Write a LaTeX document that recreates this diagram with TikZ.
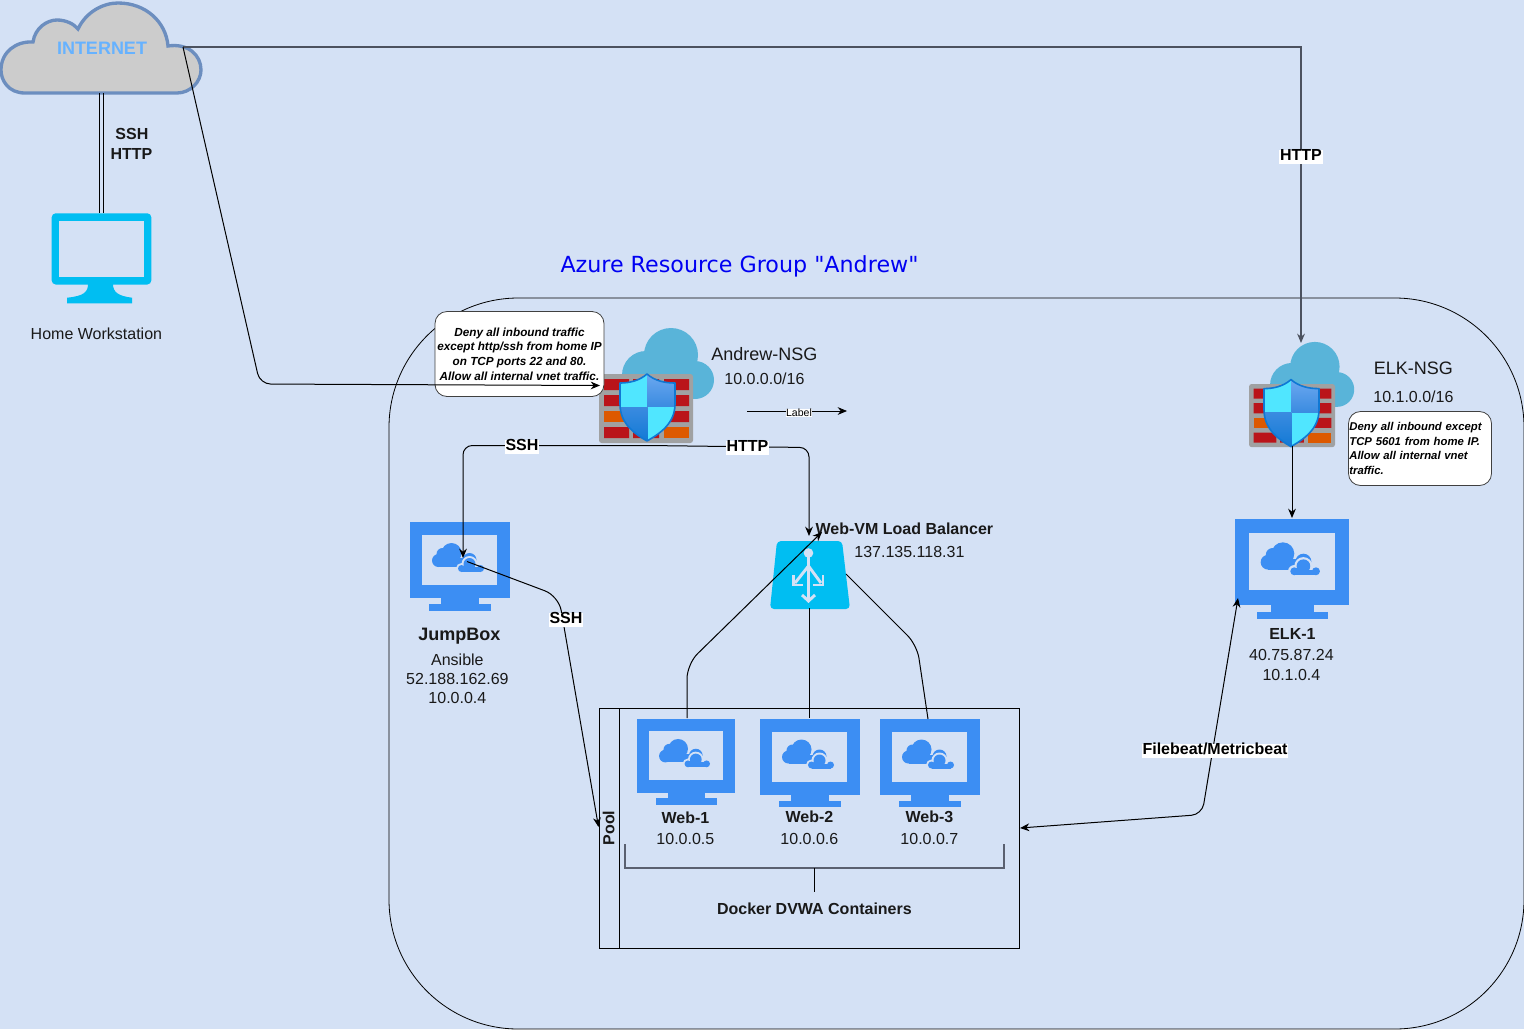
\documentclass[tikz,border=0pt]{standalone}
\usepackage{fontspec}
\setmainfont{Liberation Sans}
\newfontfamily\azfont{DejaVu Sans}
\usetikzlibrary{arrows.meta,calc}
\definecolor{bgc}{HTML}{D4E1F5}
\definecolor{vmblue}{HTML}{3C8EF3}
\definecolor{cyanmon}{HTML}{00BEF2}
\definecolor{cloudline}{HTML}{6C8EBF}
\definecolor{inet}{HTML}{66B2FF}
\definecolor{wallgray}{HTML}{A0A1A2}
\definecolor{brickred}{HTML}{BA141A}
\definecolor{brickor}{HTML}{DD5900}
\definecolor{nsgcloud}{HTML}{59B4D9}
\definecolor{shieldedge}{HTML}{0F78D4}
\definecolor{shieldc}{HTML}{50E6FF}
\definecolor{shieldb}{HTML}{5EA0EF}
\definecolor{shieldd}{HTML}{3A8BE0}
\definecolor{lineg}{HTML}{5A6070}
\tikzset{
  x=0.75pt,y=-0.75pt,
  tx/.style={inner sep=0pt,outer sep=0pt,text height=0.72em,text depth=0.2em,text=black!90,yshift=-2.2pt,xshift=0.3pt},
  small16/.style={tx,font=\fontsize{12}{14}\selectfont},
  bold16/.style={tx,font=\fontsize{12}{14}\selectfont\bfseries},
  head18/.style={tx,font=\fontsize{13.5}{16}\selectfont},
  wlabel/.style={fill=white,inner sep=0.6pt,text height=0.72em,text depth=0.2em,text=black,yshift=-2.2pt,font=\fontsize{12}{14}\selectfont\bfseries},
  conn/.style={draw=black,line width=0.75pt,rounded corners=7pt},
  arr/.style={conn,-{Stealth[length=7pt,width=5.8pt]}},
  callout/.style={draw=black!75,fill=white,rounded corners=9pt,line width=0.6pt,inner sep=0pt,
    font=\fontsize{8.8}{10.9}\selectfont\bfseries\itshape},
  anchorbox/.style={inner sep=0pt,outer sep=0pt},
}
% VM monitor in a 100 x 89 cell
\newcommand{\vmicon}[4]{% x y xscale yscale
\begin{scope}[shift={(#1,#2)},xscale=#3,yscale=#4]
  \fill[vmblue] (0,0) rectangle (100,76);
  \fill[bgc] (12.4,13) rectangle (87.4,63);
  \fill[vmblue] (31.4,76) rectangle (69,82);
  \fill[vmblue] (19,82) rectangle (81.4,88.5);
  % big cloud
  \fill[vmblue] (29,38.5) circle[radius=6.5] (33,32) circle[radius=6] (42,31) circle[radius=10] (60,38) circle[radius=7];
  \fill[vmblue] (29,36) rectangle (60,45);
  % gap and small cloud
  \fill[bgc] (52,46.5) circle[radius=5.5] (60,42) circle[radius=8] (71,46.5) circle[radius=5.5];
  \fill[bgc] (48,46) rectangle (78,52);
  \fill[vmblue] (52,46.5) circle[radius=3.5] (60,42) circle[radius=6] (71,46.5) circle[radius=3.5];
  \fill[vmblue] (52,45) rectangle (71,50);
\end{scope}}
% NSG firewall in local frame, wall 94 x 69
\newcommand{\nsgicon}[3]{% x y scale
\begin{scope}[shift={(#1,#2)},scale=#3]
  \fill[nsgcloud] (72,-19) circle[radius=27] (47,1) circle[radius=24] (96,6) circle[radius=19];
  \fill[nsgcloud] (47,-5) rectangle (96,25);
  \fill[wallgray,rounded corners=2pt] (0,0) rectangle (94,69);
  \fill[brickred] (5,5) rectangle (30,16) (34,5) rectangle (60,16) (65,5) rectangle (90,16);
  \fill[brickred] (5,21) rectangle (30,32) (34,21) rectangle (60,32) (65,21) rectangle (90,32);
  \fill[brickor] (5,37) rectangle (30,48);
  \fill[brickred] (34,37) rectangle (60,48) (65,37) rectangle (90,48);
  \fill[brickred] (5,53) rectangle (30,64) (34,53) rectangle (60,64);
  \fill[brickor] (65,53) rectangle (90,64);
\end{scope}}
\newcommand{\shieldicon}[2]{% x y
\begin{scope}[shift={(#1,#2)}]
  \begin{scope}
    \clip (48,0) .. controls (40,7) and (30,9) .. (21,9) -- (21,30) .. controls (21,50) and (36,60) .. (48,67) .. controls (60,60) and (76,50) .. (76,30) -- (76,9) .. controls (66,9) and (56,7) .. (48,0) -- cycle;
    \fill[shieldc] (15,-2) rectangle (48.5,33);
    \shade[top color=shieldb!90!white,bottom color=shieldd] (48.5,-2) rectangle (80,33);
    \shade[top color=shieldd,bottom color=shieldedge] (15,33) rectangle (48.5,70);
    \fill[shieldc] (48.5,33) rectangle (80,70);
  \end{scope}
  \draw[shieldedge,line width=1.2pt,line join=round] (48,0) .. controls (40,7) and (30,9) .. (21,9) -- (21,30) .. controls (21,50) and (36,60) .. (48,67) .. controls (60,60) and (76,50) .. (76,30) -- (76,9) .. controls (66,9) and (56,7) .. (48,0) -- cycle;
\end{scope}}
\begin{document}
\begin{tikzpicture}
\useasboundingbox (0,0) rectangle (1524,1029);
\fill[bgc] (0,0) rectangle (1524,1029);

% resource group
\draw[black,line width=0.6pt,rounded corners=97pt] (389,298) rectangle (1524,1029);
\node[anchor=center,inner sep=0pt,text=blue!95!black,yshift=-1.6pt,font=\azfont\fontsize{16.65}{20}\selectfont] (rgtitle) at (739.5,264) {Azure Resource Group "Andrew"};

% pool
\draw[black,line width=0.75pt] (599.5,708.5) rectangle (1019.5,948);
\draw[black,line width=0.75pt] (619.5,708.5) -- (619.5,948);
\node[inner sep=0pt,text height=0.72em,text depth=0.2em,rotate=90,text=black!90,font=\fontsize{12}{14}\selectfont\bfseries] (pooltitle) at (611,828) {Pool};
\node[anchorbox,minimum width=315pt,minimum height=180pt] (pool) at (809.5,828.5) {};

% internet cloud
\draw[cloudline,fill=black!20,line width=2.5pt] (25,93) .. controls (8,93) and (1,80) .. (1,70) .. controls (1,52) and (16,41) .. (33,42) .. controls (35,28) and (47,20) .. (57,20) .. controls (66,20) and (74,24) .. (78,29) .. controls (86,12) and (103,3) .. (118,3) .. controls (146,3) and (166,22) .. (168,46) .. controls (188,43) and (201,55) .. (201,70) .. controls (201,82) and (190,93) .. (177,93) -- cycle;
\node[inner sep=0pt,text height=0.72em,text depth=0pt,text=inet,yshift=-1.5pt,font=\fontsize{13.5}{16}\selectfont\bfseries] (internet) at (102,48) {INTERNET};

% home workstation
\fill[cyanmon,rounded corners=3pt] (51.7,213.3) rectangle (151.3,284.5);
\fill[bgc] (59.3,220.7) rectangle (144,277.3);
\fill[cyanmon] (88,284) .. controls (88,292) and (84,296) .. (67,297.7) -- (67,303.3) -- (132,303.3) -- (132,297.7) .. controls (118,296) and (113,292) .. (113,284) -- cycle;
\node[anchorbox,minimum width=75pt,minimum height=67.5pt] (home) at (102,258) {};
\node[small16] (homelabel) at (96,333) {Home Workstation};

% icons
\nsgicon{599}{374}{1}
\shieldicon{599}{374}
\node[anchorbox,minimum width=70.5pt,minimum height=52pt] (nsga) at (646,408.5) {};
\nsgicon{1249}{384}{0.915}
\shieldicon{1243}{379.6}
\node[anchorbox,minimum width=64.5pt,minimum height=47pt] (nsge) at (1292,415.5) {};
\vmicon{409.5}{522}{1}{1}
\node[anchorbox,minimum width=75pt,minimum height=67pt] (jump) at (459.5,566.5) {};
\vmicon{1235}{518.5}{1.14}{1.135}
\node[anchorbox,minimum width=85.5pt,minimum height=75.5pt] (elk) at (1292,568.5) {};
\vmicon{637}{718.5}{0.98}{0.975}
\node[anchorbox,minimum width=73.5pt,minimum height=65pt] (web1) at (686,762) {};
\vmicon{759.5}{718.5}{1}{1}
\node[anchorbox,minimum width=75pt,minimum height=66.5pt] (web2) at (809.5,763) {};
\vmicon{879.5}{718.5}{1}{1}
\node[anchorbox,minimum width=75pt,minimum height=66.5pt] (web3) at (929.5,763) {};

% load balancer
\fill[cyanmon,rounded corners=3pt] (777,541) -- (842,541) -- (850,609) -- (770,609) -- cycle;
\node[anchorbox,minimum width=60pt,minimum height=51pt] (lb) at (809.5,575) {};
\begin{scope}[draw=bgc,line width=2.2pt,line cap=butt]
  \fill[bgc] (808.5,553) circle[radius=4.8];
  \draw (808.5,553) -- (808.5,600);
  \draw (808.5,566) -- (795,583);
  \draw (808.5,566) -- (821,583);
  \draw (802,595) -- (808.5,601) -- (815,595);
  \draw (793.5,575) -- (793.5,585) -- (803,585);
  \draw (823,575) -- (823,585) -- (813,585);
\end{scope}

% callouts
\node[callout,minimum width=126.75pt,minimum height=63.75pt,align=center] (calla) at (519.5,354) {Deny all inbound traffic\\except http/ssh from home IP\\on TCP ports 22 and 80.\\Allow all internal vnet traffic.};
\node[callout,font=\fontsize{8.5}{10.9}\selectfont\bfseries\itshape,minimum width=107.25pt,minimum height=55.5pt,text width=106pt,align=left] (calle) at (1420,448.5) {Deny all inbound except\\TCP 5601 from home IP.\\Allow all internal vnet\\traffic.};

% text
\node[head18] (t1) at (764,354) {Andrew-NSG};
\node[small16] (t2) at (764,378) {10.0.0.0/16};
\node[head18] (t3) at (1413,368) {ELK-NSG};
\node[small16] (t4) at (1413,396) {10.1.0.0/16};
\node[bold16] (t5) at (904,528) {Web-VM Load Balancer};
\node[small16] (t6) at (909,551) {137.135.118.31};
\node[tx,font=\fontsize{13.5}{16}\selectfont\bfseries] (t7) at (459,634) {JumpBox};
\node[small16] (t8) at (457,659) {Ansible};
\node[small16] (t9) at (457,678) {52.188.162.69};
\node[small16] (t10) at (457,697) {10.0.0.4};
\node[bold16] (t11) at (1292,633) {ELK-1};
\node[small16] (t12) at (1291,654) {40.75.87.24};
\node[small16] (t13) at (1291,674) {10.1.0.4};
\node[bold16] (t14) at (685,817) {Web-1};
\node[small16] (t15) at (685,838) {10.0.0.5};
\node[bold16] (t16) at (809,816) {Web-2};
\node[small16] (t17) at (809,838) {10.0.0.6};
\node[bold16] (t18) at (929,816) {Web-3};
\node[small16] (t19) at (929,838) {10.0.0.7};
\node[bold16] (t20) at (814,908) {Docker DVWA Containers};
\node[bold16] (t21) at (131.5,133) {SSH};
\node[bold16] (t22) at (131,153) {HTTP};

% bracket
\draw[lineg,line width=0.9pt] (625,844) -- (625,868) -- (1004,868) -- (1004,844);
\coordinate (brmid) at (814,868);
\coordinate (brend) at (814,892);
\draw[black,line width=0.6pt] (brmid) -- (brend);

% connector ends
\coordinate (inetR) at (183,47);
\coordinate (elkIn) at (1301,343);
\coordinate (nsgaIn) at (600,385.5);
\coordinate (nsgaB) at (648,445.5);
\coordinate (jumpIn) at (463,558);
\coordinate (jumpOut) at (467,561.5);
\coordinate (poolIn) at (598.5,827);
\coordinate (lbIn) at (809,536);
\coordinate (lbIn2) at (822,532);
\coordinate (lbB) at (809,608);
\coordinate (lbR) at (846,574);
\coordinate (web1T) at (687,718);
\coordinate (web2T) at (809,718);
\coordinate (web3T) at (928,719);
\coordinate (nsgeB) at (1292,446);
\coordinate (elkT) at (1292,518);
\coordinate (elkL) at (1238,598);
\coordinate (poolR) at (1020,828);
\coordinate (lab1) at (747,411);
\coordinate (lab2) at (847,411);

% connectors
\draw[arr,draw=lineg!85!black,line width=1pt,rounded corners=0pt] (inetR) -- (1301,47) -- (elkIn);
\draw[arr,rounded corners=8pt] (inetR) -- (260,384) -- (nsgaIn);
\draw[black,line width=0.75pt] (99.5,93) -- (99.5,213);
\draw[black,line width=0.75pt] (103.5,93) -- (103.5,213);
\draw[arr] (nsgaB) -- (463,445.5) -- (jumpIn);
\draw[arr] (nsgaB) -- (809,447.5) -- (lbIn);
\draw[arr,rounded corners=11pt] (jumpOut) -- (558.7,596) -- (poolIn);
\draw[arr,rounded corners=11pt] (web1T) -- (687,664) -- (lbIn2);
\draw[conn] (lbB) -- (web2T);
\draw[conn,rounded corners=10pt] (lbR) -- (917,645) -- (web3T);
\draw[arr] (nsgeB) -- (elkT);
\draw[conn,{Stealth[length=7pt,width=5.8pt]}-{Stealth[length=7pt,width=5.8pt]},rounded corners=8pt] (poolR) -- (1202,814.5) -- (elkL);
\draw[arr,line width=0.6pt] (lab1) -- (lab2);

% connector labels
\node[wlabel] (lhttp) at (1301,154) {HTTP};
\node[wlabel] (lssh) at (522,444) {SSH};
\node[wlabel] (lhttp2) at (747.5,445) {HTTP};
\node[fill=white,inner sep=0.3pt,font=\fontsize{7.9}{9}\selectfont] (llab) at (799,413) {Label};
\node[wlabel] (lssh2) at (566,617) {SSH};
\node[wlabel] (lfb) at (1215,748) {Filebeat/Metricbeat};
\end{tikzpicture}
\end{document}
